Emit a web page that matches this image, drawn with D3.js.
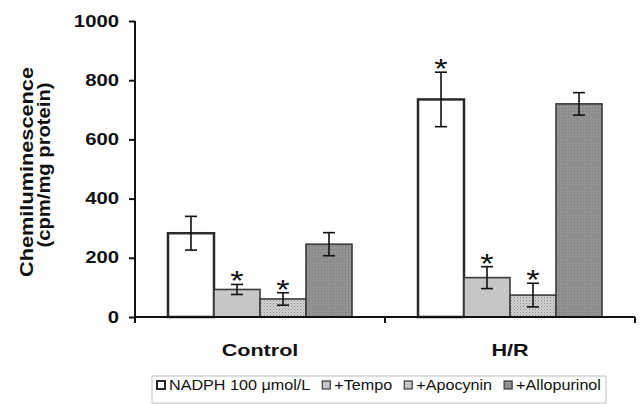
<!DOCTYPE html>
<html>
<head>
<meta charset="utf-8">
<script src="https://cdn.jsdelivr.net/npm/d3@7"></script>
<style>
  html, body { margin: 0; padding: 0; background: #fff; }
  svg { display: block; font-family: "Liberation Sans", Arial, sans-serif; }
</style>
</head>
<body>
<svg id="chart" width="641" height="404"></svg>
<script>
// ---- data ----
const groups = ["Control", "H/R"];
const seriesNames = ["NADPH 100 μmol/L", "+Tempo", "+Apocynin", "+Allopurinol"];
const controlMeans = [283, 93, 61, 246];
const controlErrors = [57, 17, 21, 39];
const controlSig = [false, true, true, false];
const hrMeans = [735, 133, 74, 720];
const hrErrors = [92, 37, 40, 38];
const hrSig = [true, true, true, false];
const yTicks = [0, 200, 400, 600, 800, 1000];
const yTitle1 = "Chemiluminescence";
const yTitle2 = "(cpm/mg protein)";

const rows = [
  { group: groups[0], means: controlMeans, errors: controlErrors, sig: controlSig },
  { group: groups[1], means: hrMeans, errors: hrErrors, sig: hrSig }
];

const SX = 1.27; // horizontal stretch of text in the reference

const svg = d3.select("#chart");
const defs = svg.append("defs");

// patterns
const pDots = defs.append("pattern").attr("id", "pDots")
  .attr("width", 3).attr("height", 3).attr("patternUnits", "userSpaceOnUse");
pDots.append("rect").attr("width", 3).attr("height", 3).attr("fill", "#d2d2d2");
pDots.append("rect").attr("width", 1).attr("height", 1).attr("fill", "#8a8a8a");
pDots.append("rect").attr("x", 1.5).attr("y", 1.5).attr("width", 1).attr("height", 1).attr("fill", "#a0a0a0");

const pGrid = defs.append("pattern").attr("id", "pGrid")
  .attr("width", 3).attr("height", 3).attr("patternUnits", "userSpaceOnUse");
pGrid.append("rect").attr("width", 3).attr("height", 3).attr("fill", "#929292");
pGrid.append("rect").attr("width", 1).attr("height", 1).attr("fill", "#7a7a7a");

const fills = ["#ffffff", "#c6c6c6", "url(#pDots)", "url(#pGrid)"];
const strokes = ["#2a2a2a", "#3a3a3a", "#3a3a3a", "#3a3a3a"];
const strokeW = [2.5, 1.6, 1.6, 1.6];

// scales
const y = d3.scaleLinear().domain([0, 1000]).range([317, 21]);
const x0 = d3.scaleBand().domain(groups).range([135, 635])
  .paddingInner(0.264).paddingOuter(0.132);
const x1 = d3.scaleBand().domain(seriesNames).range([0, x0.bandwidth()]).padding(0);

// bars
const g = svg.append("g");
rows.forEach(row => {
  const gg = g.append("g").attr("transform", `translate(${x0(row.group)},0)`);
  seriesNames.forEach((s, i) => {
    const v = row.means[i], e = row.errors[i];
    const bx = x1(s), bw = x1.bandwidth();
    gg.append("rect")
      .attr("x", bx).attr("y", y(v))
      .attr("width", bw).attr("height", y(0) - y(v))
      .attr("fill", fills[i]).attr("stroke", strokes[i]).attr("stroke-width", strokeW[i]);
    const cx = bx + bw / 2;
    const eg = gg.append("g").attr("stroke", "#111").attr("stroke-width", 1.6);
    eg.append("line").attr("x1", cx).attr("x2", cx).attr("y1", y(v + e)).attr("y2", y(v - e));
    eg.append("line").attr("x1", cx - 6).attr("x2", cx + 6).attr("y1", y(v + e)).attr("y2", y(v + e));
    eg.append("line").attr("x1", cx - 6).attr("x2", cx + 6).attr("y1", y(v - e)).attr("y2", y(v - e));
    if (row.sig[i]) {
      gg.append("text")
        .attr("transform", `translate(${cx},${y(v + e) + 6}) scale(${SX},1)`)
        .attr("text-anchor", "middle")
        .attr("font-size", 27).attr("fill", "#111")
        .text("*");
    }
  });
});

// y axis
const yAxis = d3.axisLeft(y).tickValues(yTicks).tickSize(6).tickPadding(10).tickFormat(d3.format("d"));
const ya = svg.append("g").attr("transform", "translate(135,0)").call(yAxis);
ya.select(".domain").remove();
ya.selectAll(".tick line").attr("stroke", "#111").attr("stroke-width", 2);
ya.selectAll(".tick text")
  .attr("font-size", 16).attr("font-weight", "bold").attr("fill", "#111")
  .attr("font-family", "Liberation Sans, Arial, sans-serif")
  .attr("transform", `scale(${SX},1)`)
  .attr("x", -16 / SX);
svg.append("line").attr("x1", 135).attr("x2", 135).attr("y1", y(1000)).attr("y2", 323)
  .attr("stroke", "#111").attr("stroke-width", 2);

// x axis
svg.append("line").attr("x1", 135).attr("x2", 635).attr("y1", y(0)).attr("y2", y(0))
  .attr("stroke", "#111").attr("stroke-width", 2);
const boundaries = [x0.range()[0], (x0(groups[0]) + x0.bandwidth() + x0(groups[1])) / 2, x0.range()[1]];
boundaries.forEach(b => {
  svg.append("line").attr("x1", b).attr("x2", b).attr("y1", y(0)).attr("y2", y(0) + 6)
    .attr("stroke", "#111").attr("stroke-width", 2);
});
groups.forEach(gr => {
  svg.append("text")
    .attr("transform", `translate(${x0(gr) + x0.bandwidth() / 2},356) scale(${SX},1)`)
    .attr("text-anchor", "middle")
    .attr("font-size", 17).attr("font-weight", "bold").attr("fill", "#111")
    .text(gr);
});

// y title
svg.append("text")
  .attr("transform", "translate(33,172) rotate(-90)")
  .attr("text-anchor", "middle")
  .attr("font-size", 19).attr("font-weight", "bold").attr("fill", "#111")
  .attr("textLength", 210).attr("lengthAdjust", "spacingAndGlyphs")
  .text(yTitle1);
svg.append("text")
  .attr("transform", "translate(50,165) rotate(-90)")
  .attr("text-anchor", "middle")
  .attr("font-size", 19).attr("font-weight", "bold").attr("fill", "#111")
  .attr("textLength", 165).attr("lengthAdjust", "spacingAndGlyphs")
  .text(yTitle2);

// legend
svg.append("rect")
  .attr("x", 152).attr("y", 376).attr("width", 454).attr("height", 27)
  .attr("fill", "#fff").attr("stroke", "#c8c8c8").attr("stroke-width", 1.2);
const lg = svg.append("g");
const legFont = 15;
const items = [];
seriesNames.forEach((s, i) => {
  const it = lg.append("g");
  it.append("rect").attr("x", 0).attr("y", -9).attr("width", 8).attr("height", 8)
    .attr("fill", fills[i]).attr("stroke", strokes[i]).attr("stroke-width", i === 0 ? 2 : 1.2);
  const t = it.append("text").attr("x", 0).attr("y", 0)
    .attr("font-size", legFont).attr("fill", "#111").text(s);
  items.push({ it, t, w: t.node().getComputedTextLength() });
});
// fit legend from x=157 to x=603
const totalText = d3.sum(items, d => d.w);
const swatchSpace = 4 * 14 + 3 * 10;
const sc = (603 - 157 - swatchSpace) / totalText;
let xx = 157;
items.forEach(d => {
  d.it.attr("transform", `translate(${xx},390)`);
  d.t.attr("transform", `translate(12,0) scale(${sc},1)`);
  xx += 14 + d.w * sc + 10;
});
</script>
</body>
</html>
